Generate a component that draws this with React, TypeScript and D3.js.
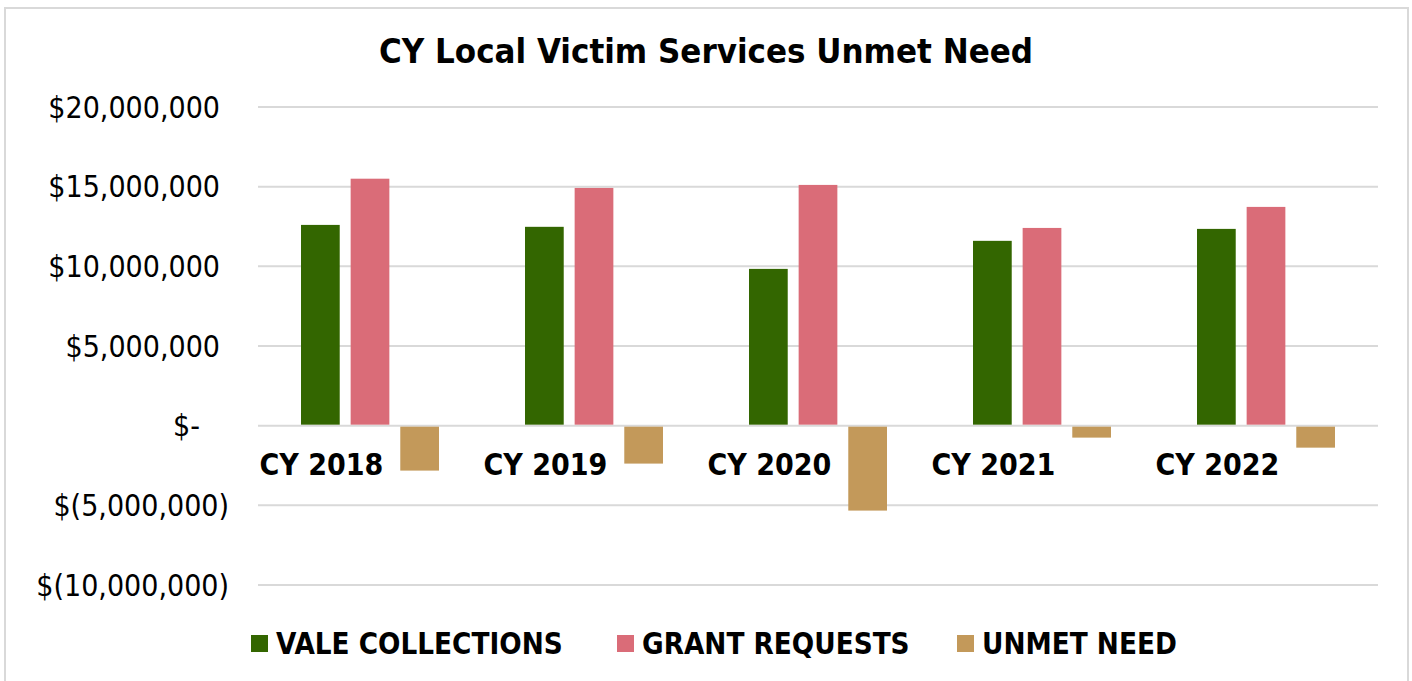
import React, { useEffect, useRef } from 'react';
import * as d3 from 'd3';

const categories = ['CY 2018', 'CY 2019', 'CY 2020', 'CY 2021', 'CY 2022'];
const seriesNames = ['VALE COLLECTIONS', 'GRANT REQUESTS', 'UNMET NEED'];
const valeCollections = [12600000, 12480000, 9840000, 11600000, 12350000];
const grantRequests = [15500000, 14920000, 15110000, 12410000, 13730000];
const unmetNeed = [-2820000, -2380000, -5330000, -750000, -1380000];
const yTicks = [-10000000, -5000000, 0, 5000000, 10000000, 15000000, 20000000];
const yTickLabels = ['$(10,000,000)', '$(5,000,000)', '$-', '$5,000,000', '$10,000,000', '$15,000,000', '$20,000,000'];
const colors = ['#336600', '#da6c78', '#c3995a'];

const W = 1412;
const H = 681;
const FONT = '"DejaVu Sans Condensed", "DejaVu Sans", sans-serif';

export default function App() {
  const svgRef = useRef<SVGSVGElement>(null);

  useEffect(() => {
    const svg = d3.select(svgRef.current);
    svg.selectAll('*').remove();

    const margin = { top: 107, right: 34, bottom: 96, left: 258 };
    const innerW = W - margin.left - margin.right;
    const innerH = H - margin.top - margin.bottom;

    // outer border
    svg.append('rect')
      .attr('x', 5).attr('y', 8)
      .attr('width', W - 9).attr('height', H + 10)
      .attr('fill', '#fff')
      .attr('stroke', '#d9d9d9')
      .attr('stroke-width', 2);

    svg.append('text')
      .attr('x', 706).attr('y', 63)
      .attr('text-anchor', 'middle')
      .attr('font-family', FONT)
      .attr('font-weight', 'bold')
      .attr('font-size', 34.5)
      .attr('fill', '#000')
      .text('CY Local Victim Services Unmet Need');

    const chart = svg.append('g').attr('transform', `translate(${margin.left},${margin.top})`);

    const y = d3.scaleLinear().domain([-10000000, 20000000]).range([innerH, 0]);
    const x0 = d3.scaleBand<string>().domain(categories).range([0, innerW]).paddingInner(0.384).paddingOuter(0.192);
    const x1 = d3.scaleBand<string>().domain(seriesNames).range([0, x0.bandwidth()]).paddingInner(0.22);

    // gridlines
    chart.append('g')
      .selectAll('line')
      .data(yTicks)
      .join('line')
      .attr('x1', 0).attr('x2', innerW)
      .attr('y1', (d) => y(d)).attr('y2', (d) => y(d))
      .attr('stroke', '#d9d9d9')
      .attr('stroke-width', 2);

    // y labels, accounting format alignment
    chart.append('g')
      .selectAll('text')
      .data(yTicks)
      .join('text')
      .attr('x', (d) => (d < 0 ? -29 : d === 0 ? -58 : -38))
      .attr('y', (d) => y(d))
      .attr('dy', '0.35em')
      .attr('text-anchor', 'end')
      .attr('font-family', FONT)
      .attr('font-size', 30)
      .attr('fill', '#000')
      .text((d, i) => yTickLabels[i]);

    const rows = categories.map((c, i) => ({
      cat: c,
      vals: [valeCollections[i], grantRequests[i], unmetNeed[i]],
    }));

    const groups = chart.append('g')
      .selectAll('g')
      .data(rows)
      .join('g')
      .attr('transform', (d) => `translate(${x0(d.cat)},0)`);

    groups.selectAll('rect')
      .data((d) => d.vals.map((v, j) => ({ v, s: seriesNames[j], j })))
      .join('rect')
      .attr('x', (d) => x1(d.s)!)
      .attr('width', x1.bandwidth())
      .attr('y', (d) => (d.v >= 0 ? y(d.v) : y(0) + 1))
      .attr('height', (d) => (d.v >= 0 ? y(0) - 1 - y(d.v) : y(d.v) - y(0) - 1))
      .attr('fill', (d) => colors[d.j]);

    // category labels, sitting under the first bar of each group
    groups.append('text')
      .attr('x', x1(seriesNames[0])! + x1.bandwidth() / 2 + 1)
      .attr('y', y(0) + 49)
      .attr('text-anchor', 'middle')
      .attr('font-family', FONT)
      .attr('font-weight', 'bold')
      .attr('font-size', 30)
      .attr('fill', '#000')
      .text((d) => d.cat);

    // legend
    const legendX = [251, 617, 957];
    const legend = svg.append('g');
    seriesNames.forEach((name, i) => {
      legend.append('rect')
        .attr('x', legendX[i]).attr('y', 635)
        .attr('width', 17).attr('height', 17)
        .attr('fill', colors[i]);
      legend.append('text')
        .attr('x', legendX[i] + 25).attr('y', 654)
        .attr('font-family', FONT)
        .attr('font-weight', 'bold')
        .attr('font-size', 29.3)
        .attr('fill', '#000')
        .text(name);
    });
  }, []);

  return (
    <svg ref={svgRef} width={W} height={H} style={{ position: 'absolute', left: 0, top: 0, background: '#fff' }} />
  );
}
